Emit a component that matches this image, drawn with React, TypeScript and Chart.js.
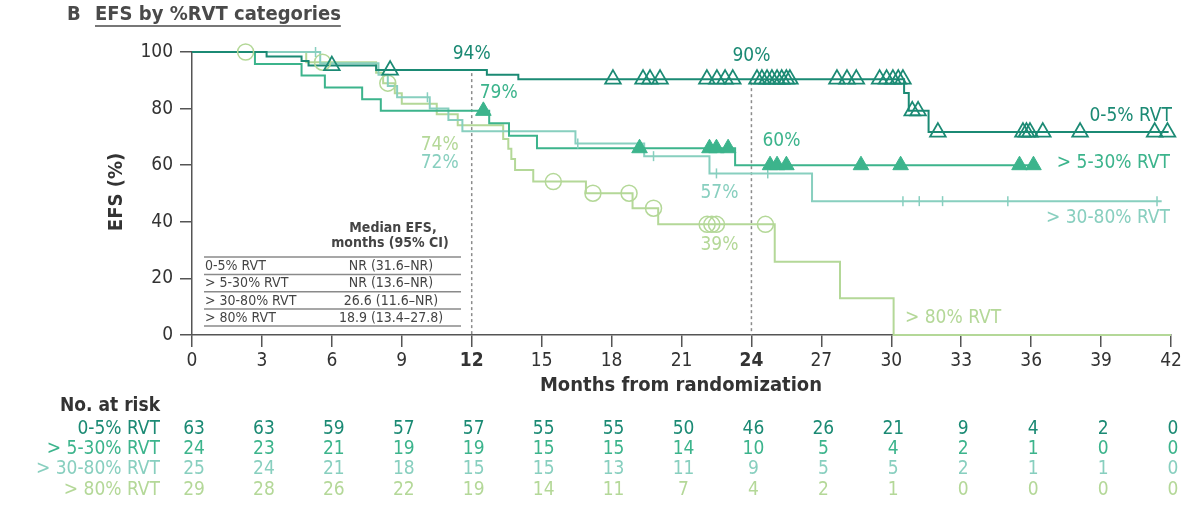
import React, { useEffect, useRef } from 'react';
import { Chart, registerables } from 'chart.js';

Chart.register(...registerables);

const FONT = "'DejaVu Sans Condensed', 'Open Sans', 'DejaVu Sans', sans-serif";

// Group names and colours
const groupNames = ['0-5% RVT', '> 5-30% RVT', '> 30-80% RVT', '> 80% RVT'];
const groupColors = ['#1b8a74', '#3cb48c', '#88cfbf', '#b4d898'];

// Kaplan–Meier steps: event time (months) and EFS (%) after the step
const rvt05Times = [0, 3.2, 4.7, 5.0, 7.9, 12.65, 14.0, 30.55, 30.75, 31.6, 41.9];
const rvt05Efs = [100, 98.4, 96.8, 95.2, 93.6, 92.0, 90.4, 85.5, 79.2, 71.7, 71.7];
const rvt05Censored = [6.0, 8.5, 18.06, 19.35, 19.65, 20.08, 22.09, 22.52, 22.87, 23.2, 24.24, 24.45, 24.67,
  24.88, 25.1, 25.3, 25.5, 25.65, 27.67, 28.1, 28.5, 29.5, 29.8, 30.07, 30.3, 30.5, 30.9, 31.15, 32.0,
  35.65, 35.8, 35.95, 36.5, 38.1, 41.3, 41.85];

const rvt530Times = [0, 2.7, 4.7, 5.7, 7.3, 8.1, 12.75, 13.6, 14.8, 23.3, 36.3];
const rvt530Efs = [100, 95.8, 91.7, 87.5, 83.3, 79.2, 74.8, 70.4, 66.0, 60.0, 60.0];
const rvt530Censored = [12.5, 19.2, 22.2, 22.5, 23.0, 24.8, 25.1, 25.5, 28.7, 30.4, 35.5, 36.1];

const rvt3080Times = [0, 5.5, 8.0, 8.4, 8.8, 10.2, 11.0, 11.6, 16.45, 19.4, 22.2, 26.6, 41.6];
const rvt3080Efs = [100, 96, 92, 88, 84, 80, 76, 72, 67.7, 63.2, 57.1, 47.3, 47.3];
const rvt3080Censored = [5.3, 10.1, 16.55, 19.8, 22.5, 24.7, 30.5, 31.2, 32.2, 35.0, 41.4];

const rvt80Times = [0, 4.9, 7.9, 8.2, 8.7, 9.0, 10.5, 11.4, 13.35, 13.57, 13.7, 13.86, 14.64, 16.9, 18.9, 20.0, 25.0, 27.8, 30.1, 42];
const rvt80Efs = [100, 96.4, 92.7, 89.0, 85.4, 81.7, 78.0, 74.1, 69.3, 65.8, 62.2, 58.3, 54.2, 50.1, 44.8, 39.1, 25.9, 13.0, 0, 0];
const rvt80Censored = [2.3, 5.6, 8.4, 15.5, 17.2, 18.75, 19.8, 22.1, 22.3, 22.5, 24.6];

// Number at risk every 3 months
const riskMonths = [0, 3, 6, 9, 12, 15, 18, 21, 24, 27, 30, 33, 36, 39, 42];
const atRisk05 = [63, 63, 59, 57, 57, 55, 55, 50, 46, 26, 21, 9, 4, 2, 0];
const atRisk530 = [24, 23, 21, 19, 19, 15, 15, 14, 10, 5, 4, 2, 1, 0, 0];
const atRisk3080 = [25, 24, 21, 18, 15, 15, 13, 11, 9, 5, 5, 2, 1, 1, 0];
const atRisk80 = [29, 28, 26, 22, 19, 14, 11, 7, 4, 2, 1, 0, 0, 0, 0];

// Median EFS inset
const medianLabels = ['0-5% RVT', '> 5-30% RVT', '> 30-80% RVT', '> 80% RVT'];
const medianValues = ['NR (31.6–NR)', 'NR (13.6–NR)', '26.6 (11.6–NR)', '18.9 (13.4–27.8)'];

const landmarkMonths = [12, 24];

function efsAt(times: number[], efs: number[], t: number) {
  let v = efs[0];
  for (let i = 0; i < times.length; i++) if (times[i] <= t) v = efs[i];
  return v;
}

export default function App() {
  const ref = useRef<HTMLCanvasElement>(null);

  useEffect(() => {
    document.body.style.margin = '0';
    const canvas = ref.current;
    if (!canvas) return;

    const groups = [
      { times: rvt05Times, efs: rvt05Efs, censored: rvt05Censored, risk: atRisk05 },
      { times: rvt530Times, efs: rvt530Efs, censored: rvt530Censored, risk: atRisk530 },
      { times: rvt3080Times, efs: rvt3080Efs, censored: rvt3080Censored, risk: atRisk3080 },
      { times: rvt80Times, efs: rvt80Efs, censored: rvt80Censored, risk: atRisk80 },
    ];

    const markerStyles: any[] = [
      { pointStyle: 'triangle', pointRadius: 9, pointBackgroundColor: 'rgba(255,255,255,0)', pointBorderWidth: 1.8 },
      { pointStyle: 'triangle', pointRadius: 9, pointBackgroundColor: groupColors[1], pointBorderWidth: 1 },
      { pointStyle: 'line', pointRadius: 5, pointRotation: 90, pointBorderWidth: 1.5 },
      { pointStyle: 'circle', pointRadius: 8, pointBackgroundColor: 'rgba(255,255,255,0)', pointBorderWidth: 1.5 },
    ];

    const datasets: any[] = [];
    groups.forEach((g, i) => {
      datasets.push({
        label: groupNames[i] + ' censored',
        data: g.censored.map((t) => ({ x: t, y: efsAt(g.times, g.efs, t) })),
        showLine: false,
        pointBorderColor: groupColors[i],
        clip: false,
        order: i,
        ...markerStyles[i],
      });
    });
    groups.forEach((g, i) => {
      datasets.push({
        label: groupNames[i],
        data: g.times.map((t, k) => ({ x: t, y: g.efs[k] })),
        showLine: true,
        stepped: 'before',
        borderColor: groupColors[i],
        borderWidth: 2,
        pointRadius: 0,
        clip: false,
        order: 10 + i,
      });
    });

    const font = (size: number, weight = 'normal') => `${weight} ${size}px ${FONT}`;

    const decorations = {
      id: 'decorations',
      beforeDatasetsDraw(chart: any) {
        const { ctx } = chart;
        const xs = chart.scales.x;
        const ys = chart.scales.y;
        ctx.save();
        ctx.strokeStyle = '#8c8c8c';
        ctx.lineWidth = 1.5;
        ctx.setLineDash([3, 3]);
        landmarkMonths.forEach((m) => {
          const x = xs.getPixelForValue(m);
          const top = ys.getPixelForValue(efsAt(rvt05Times, rvt05Efs, m)) + 3;
          ctx.beginPath();
          ctx.moveTo(x, top);
          ctx.lineTo(x, ys.bottom);
          ctx.stroke();
        });
        ctx.restore();
      },
      afterDraw(chart: any) {
        const { ctx } = chart;
        const xs = chart.scales.x;
        const ys = chart.scales.y;
        ctx.save();
        ctx.textBaseline = 'middle';

        // Panel title
        ctx.fillStyle = '#4a4a4a';
        ctx.font = font(20, 'bold');
        ctx.textAlign = 'left';
        ctx.fillText('B', 67, 15);
        const title = 'EFS by %RVT categories';
        ctx.fillText(title, 95, 15);
        const tw = ctx.measureText(title).width;
        ctx.strokeStyle = '#4a4a4a';
        ctx.lineWidth = 1.3;
        ctx.beginPath();
        ctx.moveTo(95, 26);
        ctx.lineTo(95 + tw, 26);
        ctx.stroke();

        // Axis titles
        ctx.fillStyle = '#333';
        ctx.font = font(20, 'bold');
        ctx.textAlign = 'center';
        ctx.fillText('Months from randomization', 681, 386);
        ctx.save();
        ctx.translate(117, 192);
        ctx.rotate(-Math.PI / 2);
        ctx.fillText('EFS (%)', 0, 0);
        ctx.restore();

        // Landmark percentages
        const notes = [
          { g: 0, m: 12, dx: 0, dy: -16 },
          { g: 1, m: 12, dx: 27, dy: -18 },
          { g: 3, m: 12, dx: -32, dy: 20 },
          { g: 2, m: 12, dx: -32, dy: 32 },
          { g: 0, m: 24, dx: 0, dy: -23 },
          { g: 1, m: 24, dx: 30, dy: -24 },
          { g: 2, m: 24, dx: -32, dy: 20 },
          { g: 3, m: 24, dx: -32, dy: 21 },
        ];
        ctx.font = font(19);
        notes.forEach((n) => {
          const g = groups[n.g];
          const v = efsAt(g.times, g.efs, n.m);
          ctx.fillStyle = groupColors[n.g];
          ctx.fillText(Math.round(v) + '%', xs.getPixelForValue(n.m) + n.dx, ys.getPixelForValue(v) + n.dy);
        });

        // Curve labels
        ctx.textAlign = 'right';
        ctx.fillStyle = groupColors[0];
        ctx.fillText(groupNames[0], 1172, 116);
        ctx.fillStyle = groupColors[1];
        ctx.fillText(groupNames[1], 1170, 163);
        ctx.fillStyle = groupColors[2];
        ctx.fillText(groupNames[2], 1170, 218);
        ctx.textAlign = 'left';
        ctx.fillStyle = groupColors[3];
        ctx.fillText(groupNames[3], 905, 318);

        // Median EFS inset table
        ctx.fillStyle = '#444';
        ctx.font = font(14, 'bold');
        ctx.textAlign = 'center';
        ctx.fillText('Median EFS,', 393, 228);
        ctx.fillText('months (95% CI)', 390, 243);
        ctx.strokeStyle = '#8a8a8a';
        ctx.lineWidth = 1.5;
        const rowLines = [257, 274.5, 291.8, 309, 326];
        rowLines.forEach((y) => {
          ctx.beginPath();
          ctx.moveTo(204, y);
          ctx.lineTo(461, y);
          ctx.stroke();
        });
        ctx.font = font(14);
        medianLabels.forEach((lab, i) => {
          const y = (rowLines[i] + rowLines[i + 1]) / 2 + 0.5;
          ctx.textAlign = 'left';
          ctx.fillText(lab, 205, y);
          ctx.textAlign = 'center';
          ctx.fillText(medianValues[i], 391, y);
        });

        // Number at risk
        ctx.fillStyle = '#333';
        ctx.font = font(19, 'bold');
        ctx.textAlign = 'right';
        ctx.fillText('No. at risk', 160, 406);
        const rowY = [429, 449, 469, 490];
        groups.forEach((g, i) => {
          ctx.fillStyle = groupColors[i];
          ctx.font = font(19);
          ctx.textAlign = 'right';
          ctx.fillText(groupNames[i], 160, rowY[i]);
          ctx.textAlign = 'center';
          riskMonths.forEach((m, k) => {
            ctx.fillText(String(g.risk[k]), xs.getPixelForValue(m) + 2, rowY[i]);
          });
        });
        ctx.restore();
      },
    };

    const chart = new Chart(canvas, {
      type: 'scatter',
      data: { datasets },
      options: {
        animation: false,
        responsive: false,
        devicePixelRatio: 1,
        events: [],
        layout: { padding: { top: 52, right: 32, left: 0, bottom: 0 } },
        plugins: { legend: { display: false }, tooltip: { enabled: false } },
        scales: {
          x: {
            type: 'linear',
            min: 0,
            max: 42,
            border: { display: true, color: '#555', width: 1.5 },
            grid: { drawOnChartArea: false, drawTicks: true, tickLength: 12, color: '#555', lineWidth: 1.5 },
            ticks: {
              stepSize: 3,
              autoSkip: false,
              maxRotation: 0,
              padding: 3,
              color: '#333',
              font: (c: any) => ({
                family: FONT,
                size: 19,
                weight: c.tick && (c.tick.value === 12 || c.tick.value === 24) ? 'bold' : 'normal',
              }),
            },
            afterFit: (s: any) => {
              s.height = 177;
            },
          },
          y: {
            type: 'linear',
            min: 0,
            max: 100,
            border: { display: true, color: '#555', width: 1.5 },
            grid: { drawOnChartArea: false, drawTicks: true, tickLength: 12, color: '#555', lineWidth: 1.5 },
            ticks: { stepSize: 20, padding: 7, color: '#333', font: { family: FONT, size: 19 } },
            afterFit: (s: any) => {
              s.width = 192;
            },
          },
        },
      } as any,
      plugins: [decorations],
    });

    return () => chart.destroy();
  }, []);

  return (
    <div style={{ position: 'fixed', left: 0, top: 0, width: 1203, height: 512, background: '#fff' }}>
      <canvas ref={ref} width={1203} height={512} style={{ display: 'block', width: 1203, height: 512 }} />
    </div>
  );
}
